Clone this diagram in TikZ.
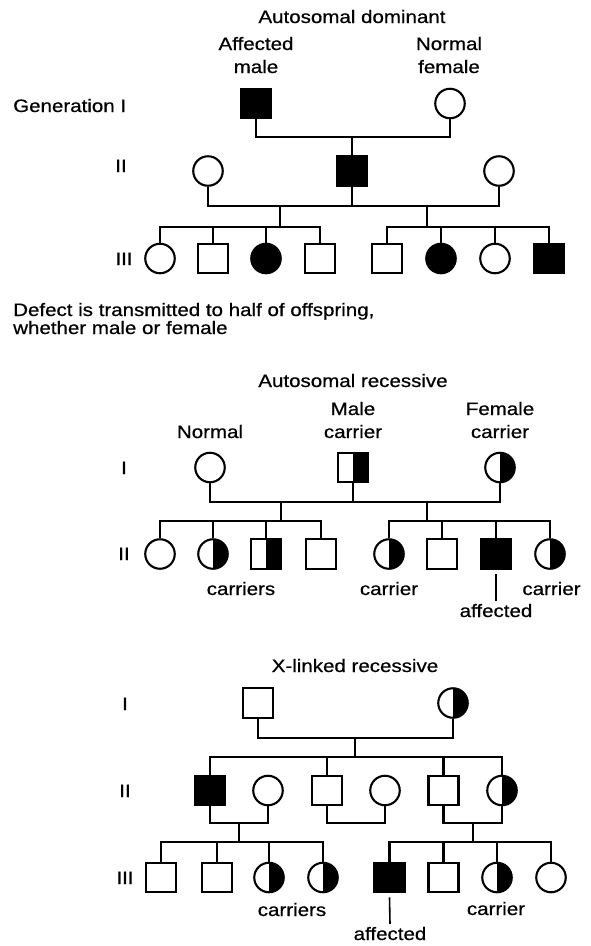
\documentclass[tikz,border=0pt]{standalone}
\usepackage{fontspec}
\setmainfont{Liberation Sans}[FakeStretch=1.14, FakeBold=0.6]
\begin{document}
\begin{tikzpicture}[x=1pt,y=-1pt,
  link/.style={line width=2.1pt},
  leader/.style={line width=1.6pt},
  male/.style={draw, rectangle, line width=2.1pt, minimum width=30pt, minimum height=29.5pt, inner sep=0pt},
  female/.style={draw, circle, line width=2.1pt, minimum size=29.5pt, inner sep=0pt},
  affected/.style={fill=black},
  carrier/.style={path picture={\fill[black] (path picture bounding box.north) rectangle (path picture bounding box.south east);}},
  lbl/.style={inner sep=0pt, anchor=base, font=\fontsize{18}{22}\selectfont}]
\fill[white] (0,0) rectangle (590,946);
\useasboundingbox (0,0) rectangle (590,946);

% ---------------- Autosomal dominant ----------------
\node[lbl] (ttl1) at (352,23) {Autosomal dominant};
\node[lbl] (la1) at (256,50) {Affected};
\node[lbl] (la2) at (256,73) {male};
\node[lbl] (lb1) at (449,50) {Normal};
\node[lbl] (lb2) at (449,73) {female};
\node[lbl, anchor=base west] (g1) at (13,112) {Generation I};
\node[lbl] (g2) at (121,172) {II};
\node[lbl] (g3) at (124,265) {III};

\node[male, affected] (p1) at (256,103.5) {};
\node[female] (p2) at (450,103.5) {};
\node[female] (p3) at (208,171) {};
\node[male, affected] (p4) at (352,171) {};
\node[female] (p5) at (499,171) {};

\node[female] (c1) at (160,258.5) {};
\node[male] (c2) at (213,258.5) {};
\node[female, affected] (c3) at (266,258.5) {};
\node[male] (c4) at (320,258.5) {};
\node[male] (c5) at (387,258.5) {};
\node[female, affected] (c6) at (441,258.5) {};
\node[female] (c7) at (495,258.5) {};
\node[male, affected] (c8) at (549,258.5) {};

\coordinate (m1) at (352,137);
\draw[link] (p1.south) |- (m1) -| (p2.south);
\draw[link] (m1) -- (p4.north);
\coordinate (m2) at (352,206);
\draw[link] (p3.south) |- (m2) -| (p5.south);
\draw[link] (p4.south) -- (m2);
\coordinate (j1) at (280,206);
\coordinate (s1) at (280,227);
\coordinate (j2) at (427,206);
\coordinate (s2) at (427,227);
\draw[link] (j1) -- (s1);
\draw[link] (j2) -- (s2);
\draw[link] (c1.north) |- (s1) -| (c4.north);
\draw[link] (c2.north) -- (c2.north |- s1);
\draw[link] (c3.north) -- (c3.north |- s1);
\draw[link] (c5.north) |- (s2) -| (c8.north);
\draw[link] (c6.north) -- (c6.north |- s2);
\draw[link] (c7.north) -- (c7.north |- s2);

\node[lbl, anchor=base west] (note1) at (13,316) {Defect is transmitted to half of offspring,};
\node[lbl, anchor=base west] (note2) at (13,334) {whether male or female};

% ---------------- Autosomal recessive ----------------
\node[lbl] (ttl2) at (353,387) {Autosomal recessive};
\node[lbl] (lc1) at (353,415) {Male};
\node[lbl] (lc2) at (353,438) {carrier};
\node[lbl] (ld1) at (500,415) {Female};
\node[lbl] (ld2) at (500,438) {carrier};
\node[lbl] (le) at (210,438) {Normal};
\node[lbl] (h1) at (124,474) {I};
\node[lbl] (h2) at (124,560) {II};

\node[female] (q1) at (210,467.5) {};
\node[male, carrier] (q2) at (353,467.5) {};
\node[female, carrier] (q3) at (500,467.5) {};

\node[female] (r1) at (160,554) {};
\node[female, carrier] (r2) at (213,554) {};
\node[male, carrier] (r3) at (266,554) {};
\node[male] (r4) at (321,554) {};
\node[female, carrier] (r5) at (389,554) {};
\node[male] (r6) at (442,554) {};
\node[male, affected] (r7) at (496,554) {};
\node[female, carrier] (r8) at (550,554) {};

\coordinate (n1) at (353,502);
\draw[link] (q1.south) |- (n1) -| (q3.south);
\draw[link] (q2.south) -- (n1);
\coordinate (k1) at (281,502);
\coordinate (t1) at (281,521);
\coordinate (k2) at (427,502);
\coordinate (t2) at (427,521);
\draw[link] (k1) -- (t1);
\draw[link] (k2) -- (t2);
\draw[link] (r1.north) |- (t1) -| (r4.north);
\draw[link] (r2.north) -- (r2.north |- t1);
\draw[link] (r3.north) -- (r3.north |- t1);
\draw[link] (r5.north) |- (t2) -| (r8.north);
\draw[link] (r6.north) -- (r6.north |- t2);
\draw[link] (r7.north) -- (r7.north |- t2);

\node[lbl] (cr1) at (241,595) {carriers};
\node[lbl] (cr2) at (389,595) {carrier};
\node[lbl] (cr3) at (551.5,595) {carrier};
\node[lbl] (af1) at (496,617) {affected};
\draw[leader] ([yshift=-4pt]r7.south) -- ([yshift=3pt]af1.north);

% ---------------- X-linked recessive ----------------
\node[lbl] (ttl3) at (355,672) {X-linked recessive};
\node[lbl] (i1) at (125,710) {I};
\node[lbl] (i2) at (125,797) {II};
\node[lbl] (i3) at (125,884) {III};

\node[male] (u1) at (258,703) {};
\node[female, carrier] (u2) at (453,703) {};

\node[male, affected] (v1) at (210,790.5) {};
\node[female] (v2) at (268,790.5) {};
\node[male] (v3) at (327,790.5) {};
\node[female] (v4) at (385,790.5) {};
\node[male] (v5) at (443.5,790.5) {};
\node[female, carrier] (v6) at (502,790.5) {};

\node[male] (z1) at (161,877.5) {};
\node[male] (z2) at (217,877.5) {};
\node[female, carrier] (z3) at (269,877.5) {};
\node[female, carrier] (z4) at (323,877.5) {};
\node[male, affected] (z5) at (389.5,877.5) {};
\node[male] (z6) at (443.5,877.5) {};
\node[female, carrier] (z7) at (497,877.5) {};
\node[female] (z8) at (551,877.5) {};

\coordinate (w1) at (355,738);
\coordinate (w2) at (355,757);
\draw[link] (u1.south) |- (w1) -| (u2.south);
\draw[link] (w1) -- (w2);
\draw[link] (v1.north) |- (w2) -| (v6.north);
\draw[link] (v3.north) -- (v3.north |- w2);
\draw[link] (v5.north) -- (v5.north |- w2);

\coordinate (x1) at (239,823);
\coordinate (x2) at (356,823);
\coordinate (x3) at (473,823);
\draw[link] (v1.south) |- (x1) -| (v2.south);
\draw[link] (v3.south) |- (x2) -| (v4.south);
\draw[link] (v5.south) |- (x3) -| (v6.south);
\coordinate (y1) at (239,842);
\coordinate (y3) at (473,842);
\draw[link] (x1) -- (y1);
\draw[link] (x3) -- (y3);
\draw[link] (z1.north) |- (y1) -| (z4.north);
\draw[link] (z2.north) -- (z2.north |- y1);
\draw[link] (z3.north) -- (z3.north |- y1);
\draw[link] (z5.north) |- (y3) -| (z8.north);
\draw[link] (z6.north) -- (z6.north |- y3);
\draw[link] (z7.north) -- (z7.north |- y3);

\node[lbl] (cr4) at (292,916) {carriers};
\node[lbl] (cr5) at (496,915) {carrier};
\node[lbl] (af2) at (390,940) {affected};
\draw[leader] ([yshift=-4pt]z5.south) -- ([yshift=3pt]af2.north);
\end{tikzpicture}
\end{document}
